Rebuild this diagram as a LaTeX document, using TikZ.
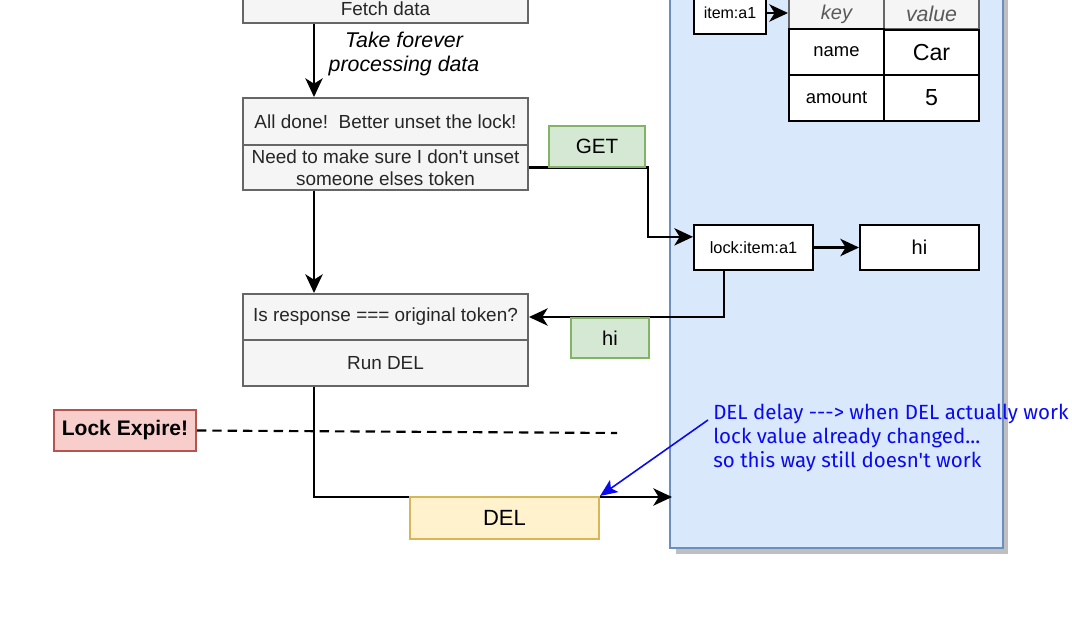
\documentclass[tikz,border=0pt]{standalone}
\usepackage{fontspec}
\setmainfont{Liberation Sans}
\newfontfamily\notefont{Fira Sans}
\usetikzlibrary{arrows.meta,calc}
\definecolor{grayfill}{HTML}{F5F5F5}
\definecolor{grayline}{HTML}{666666}
\definecolor{greenfill}{HTML}{D5E8D4}
\definecolor{greenline}{HTML}{82B366}
\definecolor{bluefill}{HTML}{DAE8FC}
\definecolor{blueline}{HTML}{6C8EBF}
\definecolor{redfill}{HTML}{F8CECC}
\definecolor{redline}{HTML}{B85450}
\definecolor{yelfill}{HTML}{FFF2CC}
\definecolor{yelline}{HTML}{D6B656}
\definecolor{notecol}{HTML}{0A0AF0}
\newcommand{\fz}[2]{\fontsize{#1}{#2}\selectfont}
\tikzset{
  wh/.style 2 args={minimum width=#1*0.75pt, minimum height=#2*0.75pt},
  box/.style={draw, line width=1.5pt, inner sep=0pt, align=center},
  graybox/.style={box, draw=grayline, fill=grayfill, text=black!85, font=\fz{14.2}{16.5}},
  greenbox/.style={box, draw=greenline, fill=greenfill},
  whitebox/.style={box, draw=black, fill=white},
  arr/.style={line width=1.6pt, -{Stealth[length=14pt,width=13pt,inset=4pt]}},
}
\begin{document}
\begin{tikzpicture}[x=0.75pt,y=-0.75pt]
\useasboundingbox (0,0) rectangle (1072,643);
\clip (0,0) rectangle (1072,643);
\fill[white] (0,0) rectangle (1072,643);
% container with shadow
\fill[black!25] (676,-15) rectangle (1008,554);
\node[box, draw=blueline, fill=bluefill, wh={333}{568}] (cont) at (836.5,264) {};
% left flow
\node[graybox, wh={285}{43}] (fetch) at (385.5,1.5) {};
\node[anchor=base, inner sep=0pt, text=black!85, font=\fz{14.2}{16.5}] (fetcht) at (385.5,15) {Fetch data};
\node[graybox, wh={285}{47}] (b2a) at (385.5,121.5) {All done!\ \ Better unset the lock!};
\node[graybox, wh={285}{45}] (b2b) at (385.5,167.5) {Need to make sure I don\textquotesingle t unset\\someone elses token};
\node[graybox, wh={285}{46}] (b3a) at (385.5,317) {Is response === original token?};
\node[graybox, wh={285}{46}] (b3b) at (385.5,363) {Run DEL};
% right side
\node[whitebox, wh={72}{42}, font=\fz{12}{14}] (item) at (730,13) {item:a1};
\node[box, draw=grayline, fill=grayfill, wh={95}{35}] (hkey) at (836.5,11.5) {};
\node[box, draw=grayline, fill=grayfill, wh={95}{35}] (hval) at (931.5,11.5) {};
\node[text=black!65, font=\fz{15}{17}\itshape, inner sep=0pt] (hkeyt) at (836.5,14) {key};
\node[text=black!65, font=\fz{16}{18}\itshape, inner sep=0pt] (hvalt) at (931.5,14) {value};
\node[whitebox, wh={95}{46}, font=\fz{13.8}{16}] (kname) at (836.5,52) {name};
\node[whitebox, wh={95}{46}, font=\fz{17.4}{20}] (vname) at (931.5,53) {Car};
\node[whitebox, wh={95}{46}, font=\fz{13.8}{16}] (kamt) at (836.5,98) {amount};
\node[whitebox, wh={95}{46}, font=\fz{17.4}{20}] (vamt) at (931.5,98) {5};
\node[whitebox, wh={119}{45}, font=\fz{12.3}{14}] (lock) at (753.5,247.5) {lock:item:a1};
\node[whitebox, wh={119}{45}, font=\fz{15}{17}] (hi) at (919.5,247.5) {hi};
% lock expire
\node[box, draw=redline, fill=redfill, wh={142}{41}, font=\fz{15.8}{18}\bfseries] (expire) at (125,430.5) {Lock Expire!};
\coordinate (dashend) at (617,433);
\draw[line width=1.6pt, dash pattern=on 7pt off 4.5pt] (expire.east) -- (dashend);
% connectors
\draw[arr] ([xshift=54pt]fetch.south west) -- ([xshift=54pt]b2a.north west);
\node[align=center, inner sep=0pt, font=\fz{16}{18}\itshape] (take) at (404,54) {Take forever\\processing data};
\draw[arr] ([xshift=54pt]b2b.south west) -- ([xshift=54pt]b3a.north west);
\draw[arr] (b2b.east) -- ++(119,0) |- ([yshift=8pt]lock.west);
\draw[arr] (lock.east) -- (hi.west);
\draw[arr] ([xshift=-22pt]lock.south) |- (b3a.east);
\draw[arr] (item.east) -- (item.east -| hkey.west);
\coordinate (delend) at (672,497);
\draw[arr] ([xshift=54pt]b3b.south west) |- (delend);
% labels over lines
\node[greenbox, wh={96}{41}, font=\fz{15.5}{18}] (get) at (597,146.5) {GET};
\node[greenbox, wh={78}{40}, font=\fz{15}{17}] (hilab) at (610,338) {hi};
\node[box, draw=yelline, fill=yelfill, wh={189}{42}, font=\fz{16.5}{19}] (del) at (504.5,518) {DEL};
% note
\node[anchor=north west, align=left, inner sep=0pt, text=notecol, font=\notefont\fz{15.4}{18}] (note) at (713,404)
  {DEL delay ---> when DEL actually work\\lock value already changed...\\so this way still doesn't work};
\coordinate (nstart) at (708,420);
\draw[line width=1.2pt, notecol, -{Stealth[length=13pt,width=11pt,inset=3pt]}] (nstart) -- (del.north east);
\end{tikzpicture}
\end{document}
